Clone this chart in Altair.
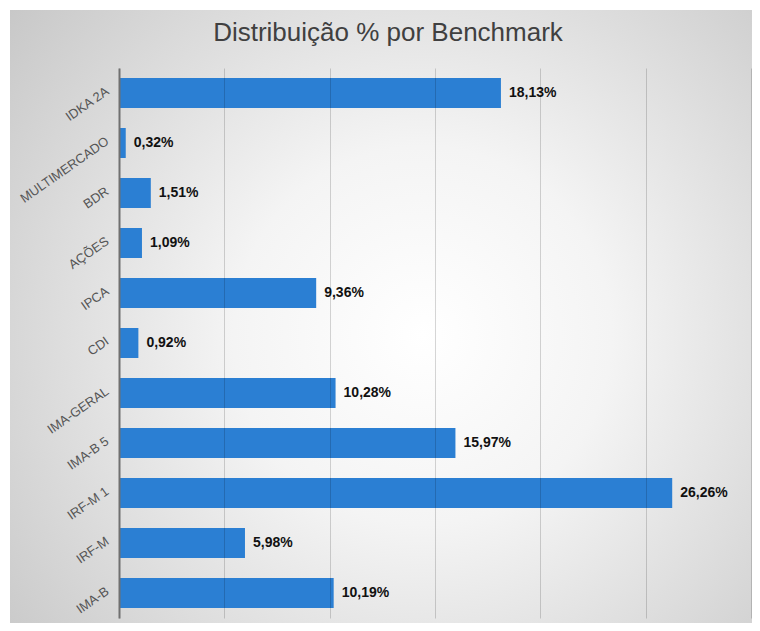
import altair as alt
import pandas as pd

categories = ["IDKA 2A", "MULTIMERCADO", "BDR", "AÇÕES", "IPCA", "CDI",
              "IMA-GERAL", "IMA-B 5", "IRF-M 1", "IRF-M", "IMA-B"]
values = [18.13, 0.32, 1.51, 1.09, 9.36, 0.92, 10.28, 15.97, 26.26, 5.98, 10.19]
labels = [f"{v:.2f}".replace(".", ",") + "%" for v in values]

df = pd.DataFrame({"cat": categories, "val": values, "lab": labels})
bg_df = pd.DataFrame({"k": [0]})

FONT = "Liberation Sans"

bg = alt.Chart(bg_df).mark_rect(
    color={
        "gradient": "radial",
        "stops": [
            {"offset": 0, "color": "#ffffff"},
            {"offset": 0.35, "color": "#f4f4f4"},
            {"offset": 1, "color": "#c6c6c6"},
        ],
        "x1": 0.55, "y1": 0.52, "r1": 0,
        "x2": 0.55, "y2": 0.52, "r2": 0.72,
    }
).encode(
    x=alt.value(-109), x2=alt.value(641), y=alt.value(-58), y2=alt.value(563)
)

ysc = alt.Scale(domain=categories, paddingInner=0.4, paddingOuter=0.2)
xsc = alt.Scale(domain=[0, 30], nice=False)

bars = alt.Chart(df).mark_bar(color="#2b7fd3").encode(
    y=alt.Y("cat:N", sort=None, scale=ysc,
            axis=alt.Axis(title=None, labelAngle=325, labelColor="#555555",
                          labelFontSize=13, labelFont=FONT, ticks=False,
                          domainColor="#707070", domainWidth=2, labelPadding=12,
                          labelOffset=-3, grid=False, zindex=2)),
    x=alt.X("val:Q", scale=xsc,
            axis=alt.Axis(title=None, labels=False, ticks=False, domain=False,
                          grid=True, gridColor="#000000", gridOpacity=0.16,
                          gridWidth=1, zindex=1,
                          values=[0, 5, 10, 15, 20, 25, 30])),
)

text = alt.Chart(df).mark_text(
    align="left", baseline="middle", dx=8, fontWeight="bold", fontSize=14,
    font=FONT, color="#111111"
).encode(
    y=alt.Y("cat:N", sort=None, scale=ysc),
    x=alt.X("val:Q", scale=xsc),
    text="lab:N",
)

chart = alt.layer(bg, bars, text).properties(
    width=632, height=550,
    padding={"left": 111, "top": 60, "right": 1, "bottom": 5},
    autosize=alt.AutoSizeParams(type="none"),
    background="white",
    title=alt.TitleParams(
        "Distribuição % por Benchmark", fontSize=26, font=FONT,
        fontWeight="normal", color="#404040", anchor="middle", dx=-47,
        offset=-36,
    ),
).configure_view(stroke=None)

chart.save("out.html", embed_options={"renderer": "svg", "actions": False})
